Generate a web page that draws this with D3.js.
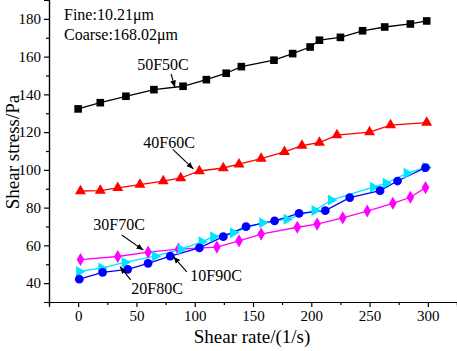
<!DOCTYPE html>
<html><head><meta charset="utf-8">
<script src="https://cdn.jsdelivr.net/npm/d3@7"></script>
<style>
html,body{margin:0;padding:0;background:#fff;}
svg{display:block;}
svg text{font-family:"Liberation Serif","Times New Roman",serif;}
</style></head>
<body>
<svg id="chart" width="457" height="351"></svg>
<script>
// ---- data ----
const xTicks = [0, 50, 100, 150, 200, 250, 300];
const yTicks = [40, 60, 80, 100, 120, 140, 160, 180];

const x50F50C = [0, 19, 41, 65, 90, 110, 127, 140, 168, 184, 199, 207, 225, 244, 263, 285, 299];
const y50F50C = [132.3, 135.6, 139, 142.5, 144.3, 147.8, 151.2, 154.7, 158.1, 161.6, 165.1, 168.7, 170.2, 173.7, 175.7, 177.3, 178.9];

const x40F60C = [2, 19, 34, 53, 73, 88, 104, 124.5, 138, 157, 177, 192, 207, 222, 250, 268, 299];
const y40F60C = [88.8, 89.0, 90.5, 92.2, 94.0, 95.7, 99.4, 101.0, 103.0, 106.0, 109.5, 112.9, 114.5, 118.4, 120.0, 123.7, 125.0];

const x30F70C = [2, 34, 60, 86, 119, 138, 157, 188, 205, 227, 248, 270, 285, 298];
const y30F70C = [52.5, 54.1, 56.4, 58, 59.1, 62.4, 66, 69.6, 71.3, 74.6, 78.2, 82.3, 85.5, 90.6];

const x20F80C = [1, 20, 40, 66, 88, 106, 116, 133, 158, 179, 203, 217, 253, 264, 282, 298];
const y20F80C = [46.2, 48, 51, 54.3, 57.9, 61.9, 64.6, 66.7, 72, 73.8, 78.5, 84, 90.8, 92.9, 98.2, 101.3];

const x10F90C = [1, 21, 42.5, 60, 79, 104, 124.5, 144, 168.5, 189.5, 212, 233, 259, 274, 298];
const y10F90C = [42.1, 45.7, 47.3, 50.5, 54.3, 58.7, 64.6, 69.9, 73, 77, 78.4, 85.3, 89, 94.1, 101.2];

const seriesNames = ["50F50C", "40F60C", "30F70C", "20F80C", "10F90C"];

// ---- layout ----
const FONT = "'Liberation Serif','Times New Roman',serif";
const svg = d3.select("#chart");
const x = d3.scaleLinear().domain([-25, 325]).range([49, 457]);
const y = d3.scaleLinear().domain([30, 190]).range([302, 0]);

const series = [
  {name: "50F50C", xs: x50F50C, ys: y50F50C, color: "#000000", sym: d3.symbolSquare, size: 58, rot: 0},
  {name: "40F60C", xs: x40F60C, ys: y40F60C, color: "#ff0000", sym: d3.symbolTriangle, size: 52, rot: 0},
  {name: "30F70C", xs: x30F70C, ys: y30F70C, color: "#ff00ff", sym: d3.symbolDiamond, size: 50, rot: 0},
  {name: "20F80C", xs: x20F80C, ys: y20F80C, color: "#00e5ff", sym: d3.symbolTriangle, size: 52, rot: 90},
  {name: "10F90C", xs: x10F90C, ys: y10F90C, color: "#0000ff", sym: d3.symbolCircle, size: 60, rot: 0}
];

// axes
const xAxis = d3.axisBottom(x).tickValues(xTicks).tickSize(5).tickPadding(3);
const xMinor = d3.axisBottom(x).tickValues(d3.range(-25, 326, 50)).tickSize(3).tickFormat("");
const yAxis = d3.axisLeft(y).tickValues(yTicks).tickSize(5).tickPadding(3);
const yMinor = d3.axisLeft(y).tickValues(d3.range(50, 191, 20)).tickSize(3).tickFormat("");

function styleAxis(g){
  g.attr("font-family", FONT);
  g.select(".domain").attr("stroke","#000").attr("stroke-width",1.2);
  g.selectAll(".tick line").attr("stroke","#000").attr("stroke-width",1.2);
  g.selectAll(".tick text").attr("fill","#000").attr("font-size","15px").attr("font-family",FONT);
}
svg.append("g").attr("transform","translate(0,302)").call(xMinor).call(styleAxis);
svg.append("g").attr("transform","translate(0,302)").call(xAxis).call(styleAxis);
svg.append("g").attr("transform","translate(49,0)").call(yMinor).call(styleAxis);
svg.append("g").attr("transform","translate(49,0)").call(yAxis).call(styleAxis);

// axis titles
svg.append("text").attr("x", 252).attr("y", 343).attr("text-anchor","middle")
  .attr("font-family",FONT).attr("font-size","19px").text("Shear rate/(1/s)");
svg.append("text").attr("transform","translate(19,152) rotate(-90)").attr("text-anchor","middle")
  .attr("font-family",FONT).attr("font-size","19px").text("Shear stress/Pa");

// series
const line = d3.line().x(d=>x(d[0])).y(d=>y(d[1]));
series.forEach(s=>{
  const pts = s.xs.map((v,i)=>[v, s.ys[i]]);
  svg.append("path").datum(pts).attr("d", line).attr("fill","none")
    .attr("stroke", s.color).attr("stroke-width", 1.3);
});
series.forEach(s=>{
  const pts = s.xs.map((v,i)=>[v, s.ys[i]]);
  svg.append("g").selectAll("path").data(pts).join("path")
    .attr("d", d3.symbol().type(s.sym).size(s.size))
    .attr("transform", d=>`translate(${x(d[0])},${y(d[1])}) rotate(${s.rot})`)
    .attr("fill", s.color);
});

// info text
svg.append("text").attr("x",64).attr("y",20).attr("font-family",FONT).attr("font-size","16px").text("Fine:10.21μm");
svg.append("text").attr("x",64).attr("y",40).attr("font-family",FONT).attr("font-size","16px").text("Coarse:168.02μm");

// annotations (data coordinates)
const annText = [[72.8,155.6],[78,114.4],[35.1,70.8],[67.7,37.3],[118.3,44.3]];
const annFrom = [[79.7,150.8],[81.2,110.9],[37.4,65.5],[45.1,41.7],[93.2,46]];
const annTo = [[83.1,143.7],[98.8,100.5],[55.9,57.5],[35.9,48.7],[81.7,54]];

svg.append("defs").append("marker").attr("id","ah").attr("viewBox","0 0 10 10")
  .attr("refX",10).attr("refY",5).attr("markerWidth",7).attr("markerHeight",7)
  .attr("markerUnits","userSpaceOnUse").attr("orient","auto")
  .append("path").attr("d","M0,1 L10,5 L0,9 Z").attr("fill","#000");

seriesNames.forEach((n,i)=>{
  svg.append("text").attr("x", x(annText[i][0])).attr("y", y(annText[i][1])+5.5)
    .attr("text-anchor","middle").attr("font-family",FONT).attr("font-size","16px").text(n);
  svg.append("line").attr("x1", x(annFrom[i][0])).attr("y1", y(annFrom[i][1]))
    .attr("x2", x(annTo[i][0])).attr("y2", y(annTo[i][1]))
    .attr("stroke","#000").attr("stroke-width",1.1).attr("marker-end","url(#ah)");
});
</script>
</body></html>
